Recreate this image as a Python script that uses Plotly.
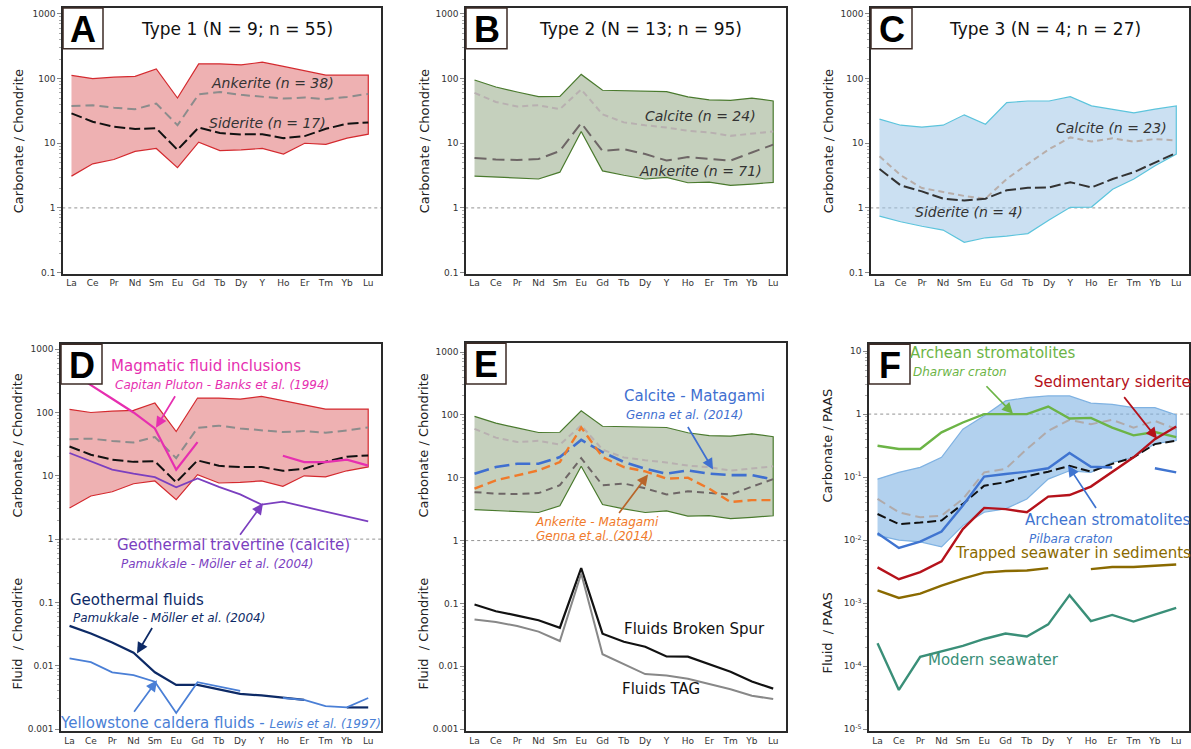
import plotly.graph_objects as go

W, H = 1191, 749

ree = ["La", "Ce", "Pr", "Nd", "Sm", "Eu", "Gd", "Tb", "Dy", "Y", "Ho", "Er", "Tm", "Yb", "Lu"]
xi = list(range(len(ree)))

# Type 1 (panel A / D)
t1_upper = [112, 100, 105, 108, 141, 50, 169, 169, 163, 179, 154, 132, 113, 113, 113]
t1_lower = [3.1, 4.8, 5.6, 7.5, 8.3, 4.2, 10.4, 7.7, 7.9, 8.3, 6.8, 10, 9.6, 12, 13.8]
t1_ankerite = [37.8, 38.6, 35.5, 33.6, 41, 19, 57, 62, 56, 52, 49, 51, 48, 52, 58]
t1_siderite = [29, 21.5, 18, 16.6, 17, 7.9, 17.5, 14.4, 13.7, 13.8, 12, 12.9, 16.7, 20, 21]

# Type 2 (panel B / E)
t2_upper = [95, 74, 62, 52.5, 53, 116, 66, 65, 63, 63, 52, 46.7, 46, 50, 45]
t2_lower = [3.1, 3.07, 2.9, 2.8, 3.57, 15.2, 3.74, 3.2, 2.8, 2.96, 2.45, 2.5, 2.23, 2.34, 2.48]
t2_calcite = [60, 43.5, 37, 38.7, 33.6, 68, 28, 21, 19, 17.5, 15.6, 14.7, 13, 14.2, 15.2]
t2_ankerite = [5.9, 5.6, 5.5, 5.7, 7.6, 20.5, 7.6, 8.1, 6.8, 5.4, 6.1, 5.7, 5.4, 7.2, 9.5]

# Type 3 (panel C)
t3_upper = [23.6, 19, 17.8, 19, 27.5, 19.7, 42.5, 45, 45, 52.5, 37.8, 33.6, 29.5, 33.6, 37.8]
t3_lower = [0.745, 0.61, 0.52, 0.454, 0.293, 0.345, 0.367, 0.40, 0.65, 1.02, 1.03, 1.94, 2.8, 4.5, 6.8]
t3_calcite = [6.3, 3.2, 2.03, 1.76, 1.53, 1.39, 2.8, 4.8, 8.1, 12.3, 10.6, 11.9, 10.6, 11.6, 11]
t3_siderite = [4.0, 2.23, 1.8, 1.39, 1.3, 1.39, 1.87, 2.05, 2.07, 2.5, 2.07, 2.8, 3.57, 5.1, 7.1]

# Panel D comparisons
magmatic_fi = [460, 270, 165, 100, 56, 12.5, 34, None, 23.4, None, 20.7, 16.5, 16.5, 18, 14.5]
travertine = [22.9, 17, 12.5, 10.8, 9.5, 6.6, 9.1, 6.7, 5.1, 3.5, 3.9, 3.25, 2.7, 2.27, 1.9]
geo_fluids = [0.0427, 0.0324, 0.0234, 0.0161, 0.0079, 0.0050, 0.0050, 0.0043, 0.0036, 0.0034, 0.0031, 0.0029, None, 0.0022, 0.0022]
yellowstone = [0.0131, 0.0114, 0.0079, 0.0071, 0.0056, 0.0018, 0.0055, 0.0047, 0.0040, None, 0.0031, 0.0029, 0.0023, 0.0022, 0.0031]

# Panel E comparisons
calcite_matagami = [11.6, 14.8, 16.7, 16.7, 21.3, 40, 25.6, 17.8, 13.9, 11.6, 13.1, 11.6, 11, 11, 9.4]
ankerite_matagami = [6.7, 9.1, 10.9, 13.1, 17.8, 63, 21.3, 14.8, 12.6, 9.7, 10, 6.7, 4.1, 4.4, 4.4]
broken_spur = [0.096, 0.075, 0.064, 0.054, 0.041, 0.365, 0.033, 0.0245, 0.0204, 0.0143, 0.0142, 0.0108, 0.0082, 0.0057, 0.0044]
tag = [0.0556, 0.0505, 0.0437, 0.0355, 0.0252, 0.30, 0.0155, 0.0108, 0.0075, 0.0071, 0.0063, 0.0052, 0.0043, 0.0034, 0.0030]

# Panel F (PAAS normalised)
f_upper = [0.093, 0.119, 0.143, 0.206, 0.577, 0.94, 1.62, 1.83, 1.94, 1.94, 1.49, 1.43, 1.27, 1.27, 0.97]
f_lower = [0.0119, 0.010, 0.0094, 0.0078, 0.017, 0.0277, 0.0313, 0.045, 0.093, 0.126, 0.119, 0.171, 0.205, 0.34, 0.38]
f_calcite = [0.045, 0.0277, 0.023, 0.0245, 0.045, 0.119, 0.135, 0.279, 0.543, 0.81, 0.69, 0.81, 0.61, 0.78, 0.577]
f_siderite = [0.026, 0.018, 0.019, 0.0205, 0.0376, 0.073, 0.083, 0.103, 0.122, 0.151, 0.122, 0.162, 0.206, 0.334, 0.377]
dharwar = [0.315, 0.279, 0.279, 0.513, 0.736, 1.0, 1.0, 1.0, 1.32, 0.85, 0.87, 0.61, 0.46, 0.52, 0.43]
pilbara = [0.0129, 0.0075, 0.0095, 0.0137, 0.0354, 0.102, 0.112, 0.122, 0.138, 0.241, 0.146, 0.142, None, 0.138, 0.119]
sed_siderite = [0.0037, 0.0024, 0.0031, 0.0046, 0.015, 0.0325, 0.031, 0.0277, 0.049, 0.052, 0.0707, 0.119, 0.206, 0.40, 0.635]
trapped_sw = [0.0016, 0.00121, 0.00142, 0.0019, 0.00245, 0.00305, 0.00324, 0.0033, 0.0036, None, 0.00347, 0.00374, 0.00374, 0.0039, 0.0041]
modern_sw = [0.00023, 0.000042, 0.000141, 0.00017, 0.00021, 0.00027, 0.00033, 0.000295, 0.00046, 0.00134, 0.00052, 0.00065, 0.00051, 0.00066, 0.00084]

FONT = "DejaVu Sans"

# panel boxes in pixels: (x0, x1, ytop, ybottom)
panels = {
    1: (63, 381, 8, 275),
    2: (466, 786, 8, 275),
    3: (871, 1189, 8, 275),
    4: (61, 381, 346, 735),
    5: (466, 786, 345, 735),
    6: (869, 1189, 346, 735),
}
yranges = {1: [-1.015, 3.092], 2: [-1.015, 3.092], 3: [-1.015, 3.092],
           4: [-3.031, 3.079], 5: [-3.032, 3.142], 6: [-5.03, 1.11]}


def px(x, y):
    return x / W, 1 - y / H


fig = go.Figure()


def ax(n):
    return ("x" if n == 1 else f"x{n}"), ("y" if n == 1 else f"y{n}")


def envelope(n, upper, lower, fill, line):
    xa, ya = ax(n)
    fig.add_trace(go.Scatter(x=xi + xi[::-1], y=upper + lower[::-1], fill="toself",
                             fillcolor=fill, line=dict(color=line, width=1.2),
                             mode="lines", xaxis=xa, yaxis=ya, hoverinfo="skip"))


def line(n, y, color, width=2, dash="solid"):
    xa, ya = ax(n)
    fig.add_trace(go.Scatter(x=xi, y=y, mode="lines", line=dict(color=color, width=width, dash=dash),
                             xaxis=xa, yaxis=ya, connectgaps=False, hoverinfo="skip"))


def unity(n):
    xa, ya = ax(n)
    fig.add_trace(go.Scatter(x=[-1, 15], y=[1, 1], mode="lines",
                             line=dict(color="#777", width=0.8, dash="dot"),
                             xaxis=xa, yaxis=ya, hoverinfo="skip"))


RED_FILL, RED_LINE = "rgba(226,120,122,0.58)", "#d42a2f"
GRN_FILL, GRN_LINE = "rgba(150,170,135,0.55)", "#4a7a2e"
BLU_FILL, BLU_LINE = "rgba(160,198,232,0.55)", "#5cc4dc"
FB_FILL, FB_LINE = "rgba(130,180,228,0.62)", "#7fb2e2"

D_ANK = "9px,5px"
D_SID = "11px,4px"
D_CAL = "6px,4px"

# A
unity(1)
envelope(1, t1_upper, t1_lower, RED_FILL, RED_LINE)
line(1, t1_ankerite, "#8c8c8c", 2, D_ANK)
line(1, t1_siderite, "#111", 2, D_SID)
# B
unity(2)
envelope(2, t2_upper, t2_lower, GRN_FILL, GRN_LINE)
line(2, t2_calcite, "#b8b0b0", 2, D_CAL)
line(2, t2_ankerite, "#6e6666", 2, "12px,6px")
# C
unity(3)
envelope(3, t3_upper, t3_lower, BLU_FILL, BLU_LINE)
line(3, t3_calcite, "#b8aeaa", 2, D_CAL)
line(3, t3_siderite, "#333", 2, D_SID)
# D
unity(4)
envelope(4, t1_upper, t1_lower, RED_FILL, RED_LINE)
line(4, t1_ankerite, "#8c8c8c", 2, D_ANK)
line(4, t1_siderite, "#111", 2, D_SID)
line(4, magmatic_fi, "#e62fb0", 2.2)
line(4, travertine, "#7b3fbf", 1.8)
line(4, geo_fluids, "#0d2a66", 2.2)
line(4, yellowstone, "#4a7fd6", 1.8)
# E
unity(5)
envelope(5, t2_upper, t2_lower, GRN_FILL, GRN_LINE)
line(5, t2_calcite, "#b8b0b0", 2, D_CAL)
line(5, t2_ankerite, "#6e6666", 2, "7px,5px")
line(5, calcite_matagami, "#3f6fd0", 2.6, "15px,6px")
line(5, ankerite_matagami, "#f07a2a", 2.4, "9px,5px")
line(5, broken_spur, "#111", 2.2)
line(5, tag, "#888", 2)
# F
unity(6)
envelope(6, f_upper, f_lower, FB_FILL, FB_LINE)
line(6, f_calcite, "#b0aaaa", 2, "9px,5px")
line(6, f_siderite, "#111", 2, "9px,4px")
line(6, dharwar, "#6cb446", 2.4)
line(6, pilbara, "#3f74d0", 2.4)
line(6, sed_siderite, "#b5121b", 2.4)
line(6, trapped_sw, "#8a6a00", 2.4)
line(6, modern_sw, "#3a8f78", 2.4)

layout = dict(width=W, height=H, margin=dict(l=0, r=0, t=0, b=0),
              paper_bgcolor="white", plot_bgcolor="white", showlegend=False,
              font=dict(family=FONT, color="#222"))

minor_vals = [m * 10 ** e for e in range(-6, 4) for m in range(2, 10)]
for n, (x0, x1, yt, yb) in panels.items():
    xd = [x0 / W, x1 / W]
    yd = [1 - yb / H, 1 - yt / H]
    lo, hi = yranges[n]
    if n == 6:
        tv = [1e-5, 1e-4, 1e-3, 1e-2, 1e-1, 1, 10]
        tt = ["10<sup>-5</sup>", "10<sup>-4</sup>", "10<sup>-3</sup>", "10<sup>-2</sup>",
              "10<sup>-1</sup>", "1", "10"]
    elif n in (4, 5):
        tv = [0.001, 0.01, 0.1, 1, 10, 100, 1000]
        tt = ["0.001", "0.01", "0.1", "1", "10", "100", "1000"]
    else:
        tv = [0.1, 1, 10, 100, 1000]
        tt = ["0.1", "1", "10", "100", "1000"]
    sfx = "" if n == 1 else str(n)
    layout["xaxis" + sfx] = dict(domain=xd, range=[-0.4, 14.6], anchor="y" + sfx,
                                 tickmode="array", tickvals=xi, ticktext=ree, ticks="",
                                 tickfont=dict(size=9, color="#333"), showgrid=False, zeroline=False,
                                 showline=True, mirror=True, linecolor="#2a2a2a", linewidth=1.5)
    layout["yaxis" + sfx] = dict(domain=yd, type="log", range=[lo, hi], anchor="x" + sfx,
                                 tickmode="array", tickvals=tv, ticktext=tt, ticks="outside",
                                 ticklen=4, tickcolor="#888", tickfont=dict(size=9, color="#333"),
                                 minor=dict(tickvals=minor_vals, ticks="outside", ticklen=2, tickcolor="#aaa"),
                                 showgrid=False, zeroline=False,
                                 showline=True, mirror=True, linecolor="#2a2a2a", linewidth=1.5)

fig.update_layout(**layout)

shapes = []
annotations = []

# panel letter boxes
letter_boxes = {"A": (63, 103, 8, 49), "B": (466, 507, 8, 49), "C": (871, 912, 8, 49),
                "D": (61, 102, 346, 386), "E": (466, 506, 345, 386), "F": (869, 910, 346, 386)}
for k, (x0, x1, y0, y1) in letter_boxes.items():
    shapes.append(dict(type="rect", xref="paper", yref="paper", x0=x0 / W, x1=x1 / W,
                       y0=1 - y1 / H, y1=1 - y0 / H, fillcolor="white",
                       line=dict(color="#3d2b26", width=1.5), layer="above"))
    cx, cy = px((x0 + x1) / 2, (y0 + y1) / 2 + 1)
    annotations.append(dict(x=cx, y=cy, xref="paper", yref="paper", text=f"<b>{k}</b>",
                            showarrow=False, font=dict(family="Liberation Sans", size=36, color="black"),
                            xanchor="center", yanchor="middle"))


def text(x, y, s, color="#222", size=15, italic=False, anchor="center"):
    X, Y = px(x, y)
    if italic:
        s = f"<i>{s}</i>"
    annotations.append(dict(x=X, y=Y, xref="paper", yref="paper", text=s, showarrow=False,
                            font=dict(family=FONT, size=size, color=color),
                            xanchor=anchor, yanchor="middle"))


def arrow(tx, ty, hx, hy, color):
    X, Y = px(hx, hy)
    annotations.append(dict(x=X, y=Y, xref="paper", yref="paper", text="", showarrow=True,
                            ax=tx - hx, ay=ty - hy, arrowhead=2, arrowsize=1.3, arrowwidth=1.7,
                            arrowcolor=color))


def vtitle(x, y, s):
    X, Y = px(x, y)
    annotations.append(dict(x=X, y=Y, xref="paper", yref="paper", text=s, showarrow=False,
                            textangle=-90, font=dict(family=FONT, size=13, color="#222"),
                            xanchor="center", yanchor="middle"))


# titles
text(237, 29, "Type 1 (N = 9; n = 55)", "#111", 17)
text(640, 29, "Type 2 (N = 13; n = 95)", "#111", 17)
text(1045, 29, "Type 3 (N = 4; n = 27)", "#111", 17)

# y-axis titles
for xx in (18, 424, 828):
    vtitle(xx, 142, "Carbonate / Chondrite")
vtitle(18, 448, "Carbonate / Chondrite")
vtitle(18, 637, "Fluid  / Chondrite")
vtitle(424, 448, "Carbonate / Chondrite")
vtitle(424, 637, "Fluid  / Chondrite")
vtitle(828, 448, "Carbonate / PAAS")
vtitle(828, 637, "Fluid  / PAAS")

# A, B, C labels
text(272, 83, "Ankerite (n = 38)", "#333", 14, True)
text(267, 124, "Siderite (n = 17)", "#333", 14, True)
text(700, 117, "Calcite (n = 24)", "#333", 14, True)
text(700, 172, "Ankerite (n = 71)", "#333", 14, True)
text(1111, 129, "Calcite (n = 23)", "#333", 14, True)
text(969, 213, "Siderite (n = 4)", "#333", 14, True)

# D labels
text(206, 368, "Magmatic fluid inclusions", "#e62fb0", 15)
text(222, 387, "Capitan Pluton - Banks et al. (1994)", "#e62fb0", 12, True)
arrow(176, 397, 156, 430, "#e62fb0")
text(233, 548, "Geothermal travertine (calcite)", "#7b3fbf", 15)
text(217, 567, "Pamukkale - Möller et al. (2004)", "#7b3fbf", 12, True)
arrow(239, 539, 263, 506, "#7b3fbf")
text(137, 603, "Geothermal fluids", "#0d2a66", 15)
text(169, 621, "Pamukkale - Möller et al. (2004)", "#0d2a66", 12, True)
arrow(153, 630, 137, 657, "#0d2a66")
text(220, 727, "Yellowstone caldera fluids - <i><span style='font-size:12px'>Lewis et al. (1997)</span></i>",
     "#4a7fd6", 15)
arrow(133, 717, 157, 684, "#4a7fd6")

# E labels
text(694, 398, "Calcite - Matagami", "#3f6fd0", 15)
text(685, 417, "Genna et al. (2014)", "#3f6fd0", 12, True)
arrow(687, 428, 713, 472, "#3f6fd0")
text(597, 525, "Ankerite - Matagami", "#f07a2a", 12, True)
text(594, 539, "Genna et al. (2014)", "#f07a2a", 12, True)
arrow(618, 517, 648, 477, "#b8652a")
text(694, 632, "Fluids Broken Spur", "#111", 15)
text(661, 693, "Fluids TAG", "#111", 15)

# F labels
text(993, 355, "Archean stromatolites", "#6cb446", 15)
text(960, 374, "Dharwar craton", "#6cb446", 12, True)
arrow(985, 387, 1013, 416, "#6cb446")
text(1112, 384, "Sedimentary siderite", "#b5121b", 15)
arrow(1123, 398, 1157, 441, "#b5121b")
text(1108, 523, "Archean stromatolites", "#3f74d0", 15)
text(1071, 542, "Pilbara craton", "#3f74d0", 12, True)
arrow(1097, 512, 1068, 468, "#3f74d0")
text(1073, 556, "Trapped seawater in sediments", "#8a6a00", 15)
text(993, 664, "Modern seawater", "#3a8f78", 15)

fig.update_layout(shapes=shapes, annotations=annotations)
fig.write_html("out.html", config={"displayModeBar": False},
               post_script="document.body.style.margin='0';document.body.style.overflow='hidden';")
